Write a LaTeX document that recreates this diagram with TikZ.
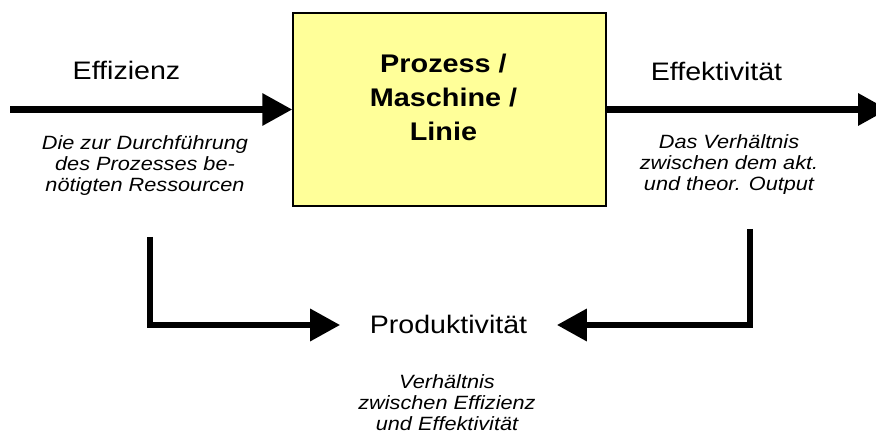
\documentclass[tikz,border=0pt]{standalone}
\usepackage{fontspec}
\setmainfont[FakeStretch=1.13]{Liberation Sans}
\usetikzlibrary{arrows.meta}
\definecolor{boxfill}{HTML}{FFFF99}
\begin{document}
\begin{tikzpicture}[x=1pt,y=-1pt,
  conn/.style={line width=6.5pt, -{Triangle[length=30pt,width=31pt]}},
  procbox/.style={draw=black, line width=1.5pt, fill=boxfill, minimum width=313pt, minimum height=193pt, inner sep=0pt},
  bigtxt/.style={font=\fontsize{25.3}{30}\selectfont, inner sep=0pt},
  boldtxt/.style={font=\bfseries\fontsize{25.5}{34}\selectfont, align=center, inner sep=0pt},
  smalltxt/.style={font=\itshape\fontsize{19.2}{21}\selectfont, align=center, inner sep=0pt}
]
\useasboundingbox (0,0) rectangle (876,435);
\clip (0,0) rectangle (876,435);
\fill[white] (0,0) rectangle (876,435);

\node[procbox] (box) at (449.5,109.5) {};
\node[boldtxt, anchor=north] (boxlbl) at (443.5,53.4) {Prozess /\\Maschine /\\Linie};

\node[bigtxt, anchor=base] (eff) at (126.5,80) {Effizienz};
\node[bigtxt, anchor=base] (efk) at (716.5,81) {Effektivität};
\node[smalltxt, anchor=north] (effd) at (145,135) {Die zur Durchführung\\des Prozesses be-\\nötigten Ressourcen};
\node[smalltxt, anchor=north] (efkd) at (729,134) {Das Verhältnis\\zwischen dem akt.\\und theor. Output};

\node[bigtxt, text height=18pt, text depth=0pt, inner xsep=29.5pt] (prod) at (448.5,325) {Produktivität};
\node[smalltxt, anchor=north] (prodd) at (447,374) {Verhältnis\\zwischen Effizienz\\und Effektivität};

\coordinate (inL) at (10,109.5);
\coordinate (outR) at (888,109.5);
\coordinate (dL) at (150,237);
\coordinate (dR) at (750,229);

\draw[conn] (inL) -- (box.west);
\draw[conn] (box.east) -- (outR);
\draw[conn] (dL) |- (prod.west);
\draw[conn] (dR) |- (prod.east);
\end{tikzpicture}
\end{document}
